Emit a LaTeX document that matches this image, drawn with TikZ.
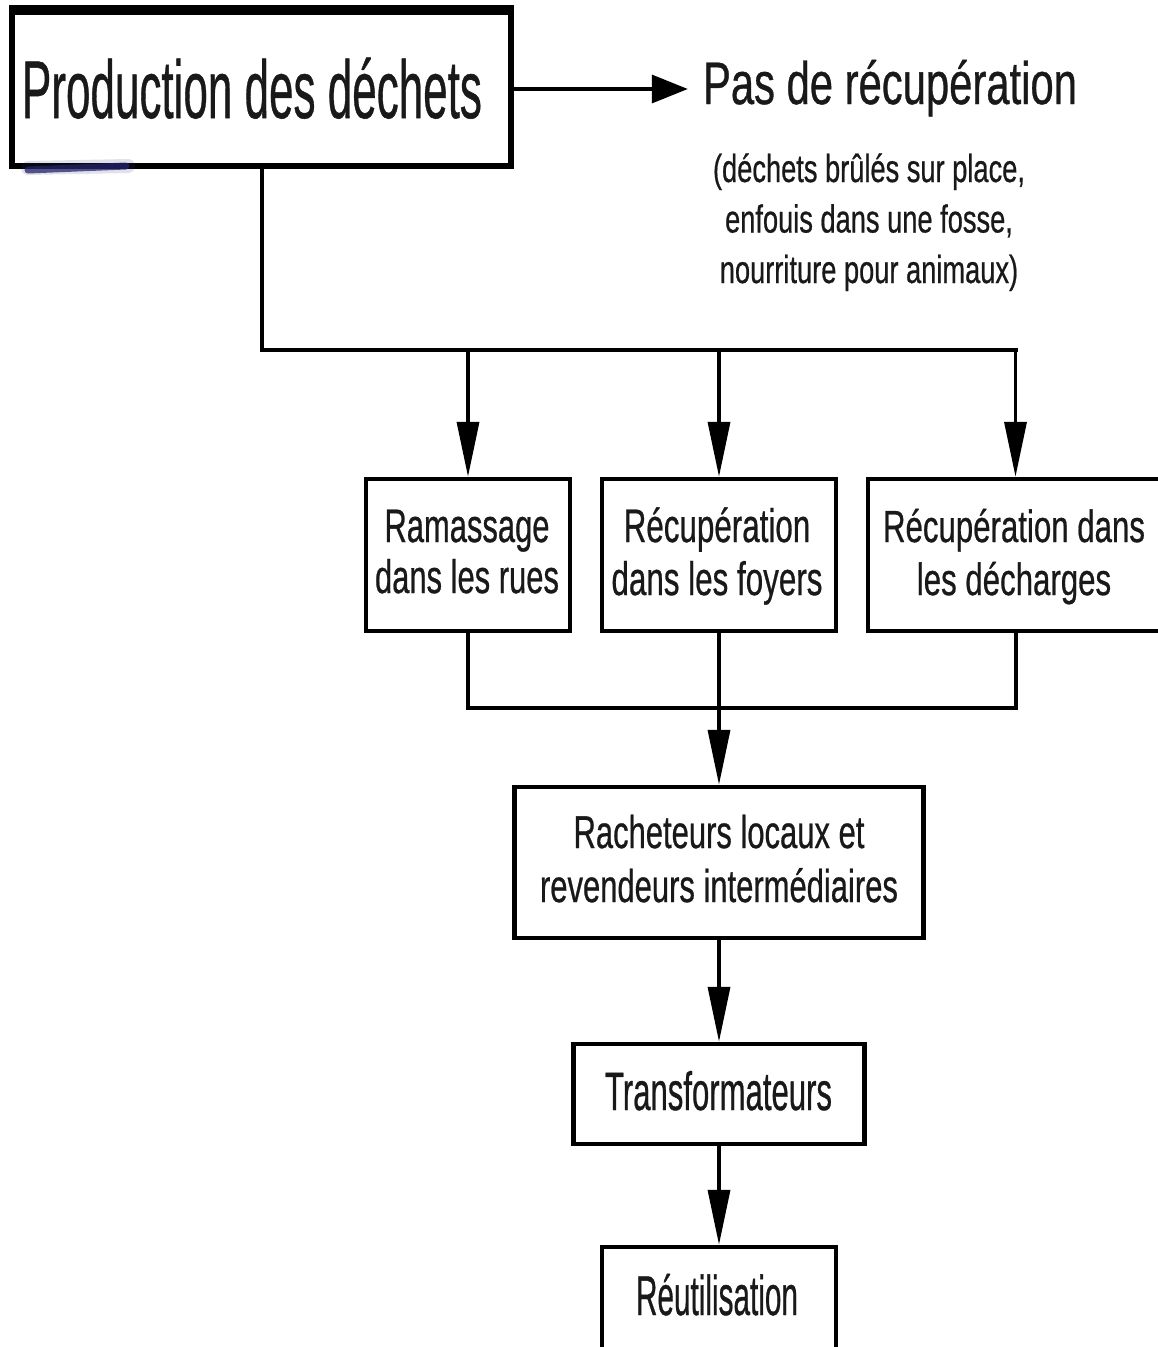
\documentclass[tikz,border=0pt]{standalone}
\usepackage{fontspec}
\setmainfont{Liberation Sans}[FakeBold=0.7]
\usepackage{graphicx}
\usetikzlibrary{arrows.meta}

% condensed, centred text block: width, font size, line spacing, lines
\newcommand\fittext[4]{%
  \resizebox{#1pt}{\height}{\fontsize{#2}{#3}\selectfont
    \begin{tabular}[t]{@{}c@{}}#4\end{tabular}}}

\tikzset{
  box/.style={draw, line width=4.5pt, inner sep=0pt, fill=white},
  label/.style={anchor=base, inner sep=0pt, text=black!90},
  conn/.style={line width=4pt, line cap=rect},
  varr/.style={line width=3.5pt, -{Triangle[length=55pt,width=22pt]}},
  harr/.style={line width=3.5pt, -{Triangle[length=36pt,width=28pt]}},
}

\begin{document}
\begin{tikzpicture}[x=1pt,y=-1pt]
\useasboundingbox (0,0) rectangle (1158,1347);
\fill[white] (0,0) rectangle (1158,1347);
\clip (0,0) rectangle (1158,1347);

% boxes
\node[box, line width=6pt, minimum width=499pt, minimum height=154pt] (title) at (261.5,89) {};
\node[box, minimum width=204pt, minimum height=152pt] (A) at (468,555) {};
\node[box, minimum width=234pt, minimum height=152pt] (B) at (719,555) {};
\node[box, minimum width=295pt, minimum height=152pt] (C) at (1015.5,555) {};
\node[box, minimum width=409pt, minimum height=151pt] (R) at (719,862.5) {};
\node[box, minimum width=291pt, minimum height=100pt] (T) at (719,1094) {};
\node[box, minimum width=234pt, minimum height=123pt] (U) at (719,1308.5) {};

% heavier top edge of the first box
\draw[line width=9pt] (title.north west) -- (title.north east);

% texts
\node[label] (titletext) at (252,118) {\fittext{460}{82}{98}{Production des déchets}};
\node[label] (pas) at (890,104) {\fittext{374}{60}{72}{Pas de récupération}};
\node[label] (subnote) at (869,182) {\fittext{312}{39}{50.5}{(déchets brûlés sur place,\\ enfouis dans une fosse,\\ nourriture pour animaux)}};
\node[label] (Atext) at (467,542) {\fittext{184}{47}{51}{Ramassage\\ dans les rues}};
\node[label] (Btext) at (717,542) {\fittext{211}{47}{53}{Récupération\\ dans les foyers}};
\node[label] (Ctext) at (1014,542) {\fittext{262}{45}{53}{Récupération dans\\ les décharges}};
\node[label] (Rtext) at (719,848) {\fittext{358}{46}{54}{Racheteurs locaux et\\ revendeurs intermédiaires}};
\node[label] (Ttext) at (718.5,1110) {\fittext{227}{54}{60}{Transformateurs}};
\node[label] (Utext) at (717,1315) {\fittext{162}{56}{60}{Réutilisation}};

% small blurred ink mark under the first box
\draw[line width=14pt, color={rgb,255:red,60;green,60;blue,130}, opacity=.15, line cap=round] (28,168) -- (128,166);
\draw[line width=7pt, color={rgb,255:red,35;green,35;blue,105}, opacity=.75, line cap=round] (28,170) -- (126,166);

% connectors
\coordinate (bus) at (0,350);
\coordinate (bus2) at (0,708);

\draw[harr, shorten >=15pt] (title.east) -- (title.east -| pas.west);

\draw[conn] (title.south) -- (title.south |- bus) -- (C.north |- bus);
\draw[varr] (A.north |- bus) -- (A.north);
\draw[varr] (B.north |- bus) -- (B.north);
\draw[varr] (C.north |- bus) -- (C.north);

\draw[conn] (A.south) -- (A.south |- bus2) -- (C.south |- bus2) -- (C.south);
\draw[conn] (B.south) -- (B.south |- bus2);
\draw[varr] (B.south |- bus2) -- (R.north);
\draw[varr] (R.south) -- (T.north);
\draw[varr] (T.south) -- (U.north);
\end{tikzpicture}
\end{document}
